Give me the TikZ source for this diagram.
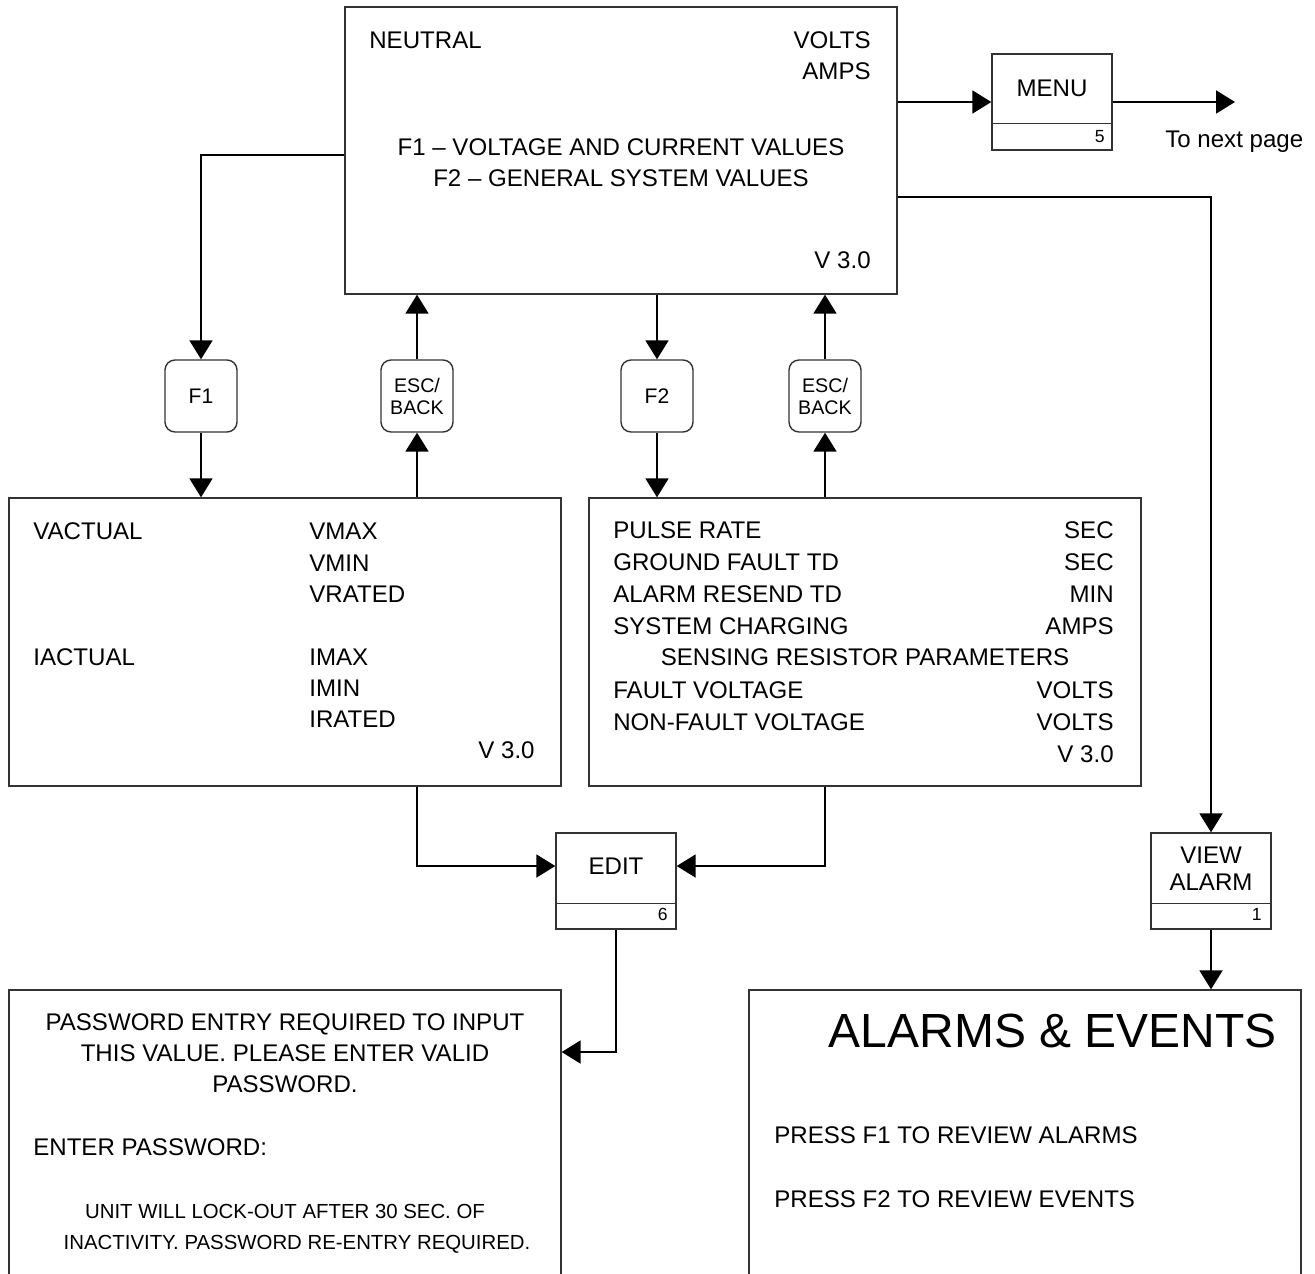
\documentclass[tikz,border=0pt]{standalone}
\usepackage{fontspec}
\setmainfont{Liberation Sans}
\usetikzlibrary{arrows.meta,positioning,calc}
\tikzset{
    tela/.style={
        rectangle,
        draw=black!80,
        line width=0.8pt,
        fill=white
    },
    tecla/.style={
        rectangle,
        draw=black!80,
        line width=0.8pt,
        rounded corners=0.2cm,
        align=center,
        minimum width=1.44cm,
        minimum height=1.44cm,
        font=\fontsize{11.2}{12.5}\selectfont
    },
    botao/.style={tela, minimum width=2.4cm, minimum height=1.92cm},
    divisao/.style={draw=black!80, line width=0.8pt},
    rotulo/.style={inner sep=0pt, font=\fontsize{13.7}{16}\selectfont},
    miudo/.style={inner sep=0pt, font=\fontsize{11.6}{13}\selectfont},
    numero/.style={inner sep=0pt, anchor=base east, font=\fontsize{10}{12}\selectfont},
    fluxo/.style={-{Triangle[length=0.38cm, width=0.46cm]}, line width=1.1pt}
}

\begin{document}
\begin{tikzpicture}[x=0.02cm, y=-0.02cm]
        \path[use as bounding box, clip] (0,0) rectangle (1315,1274);

        % telas
        \node[tela, minimum width=11.04cm, minimum height=5.74cm] (neutro) at (621,150.5) {};
        \node[tela, minimum width=11.04cm, minimum height=5.76cm] (tensoes) at (285,642) {};
        \node[tela, minimum width=11.04cm, minimum height=5.76cm] (sistema) at (865,642) {};
        \node[tela, minimum width=11.04cm, minimum height=6.2cm] (senha) at (285,1145) {};
        \node[tela, minimum width=11.04cm, minimum height=6.2cm] (eventos) at (1025,1145) {};

        % teclas
        \node[tecla, font=\fontsize{12}{14}\selectfont] (f1) at (201,396) {F1};
        \node[tecla] (esc1) at (417,396) {ESC/\\BACK};
        \node[tecla, font=\fontsize{12}{14}\selectfont] (f2) at (657,396) {F2};
        \node[tecla] (esc2) at (825,396) {ESC/\\BACK};

        % botoes com numero
        \node[botao] (menu) at (1052,102) {};
        \node[botao] (editar) at (616,881) {};
        \node[botao] (alarme) at (1211,881) {};
        \draw[divisao] ([yshift=0.54cm]menu.south west) -- ([yshift=0.54cm]menu.south east);
        \draw[divisao] ([yshift=0.52cm]editar.south west) -- ([yshift=0.52cm]editar.south east);
        \draw[divisao] ([yshift=0.52cm]alarme.south west) -- ([yshift=0.52cm]alarme.south east);
        \node[rotulo, anchor=base] (menutxt) at (1052,96.5) {MENU};
        \node[numero] (menunum) at (1105,142) {5};
        \node[rotulo, anchor=base] (editartxt) at (616,874.5) {EDIT};
        \node[numero] (editarnum) at (668,920) {6};
        \node[rotulo, anchor=base] (alarmetxt1) at (1211,863.5) {VIEW};
        \node[rotulo, anchor=base] (alarmetxt2) at (1211,890.5) {ALARM};
        \node[numero] (alarmenum) at (1262,920) {1};

        % tela principal
        \node[rotulo, anchor=base west] (neutral) at (369,48.5) {NEUTRAL};
        \node[rotulo, anchor=base east] (volts) at (871,48.5) {VOLTS};
        \node[rotulo, anchor=base east] (amps) at (871,79.5) {AMPS};
        \node[rotulo, anchor=base] (opf1) at (621,155.5) {F1 – VOLTAGE AND CURRENT VALUES};
        \node[rotulo, anchor=base] (opf2) at (621,186.5) {F2 – GENERAL SYSTEM VALUES};
        \node[rotulo, anchor=base east] (versao1) at (871,268.5) {V 3.0};

        % tensoes e correntes
        \node[rotulo, anchor=base west] (vactual) at (33,539.5) {VACTUAL};
        \node[rotulo, anchor=base west] (vmax) at (309,539.5) {VMAX};
        \node[rotulo, anchor=base west] (vmin) at (309,571.5) {VMIN};
        \node[rotulo, anchor=base west] (vrated) at (309,602.5) {VRATED};
        \node[rotulo, anchor=base west] (iactual) at (33,665.5) {IACTUAL};
        \node[rotulo, anchor=base west] (imax) at (309,665.5) {IMAX};
        \node[rotulo, anchor=base west] (imin) at (309,696.5) {IMIN};
        \node[rotulo, anchor=base west] (irated) at (309,727.5) {IRATED};
        \node[rotulo, anchor=base east] (versao2) at (535,758.5) {V 3.0};

        % valores do sistema
        \node[rotulo, anchor=base west] (pulso) at (613,538.5) {PULSE RATE};
        \node[rotulo, anchor=base east] (pulsoun) at (1114,538.5) {SEC};
        \node[rotulo, anchor=base west] (falta) at (613,570.5) {GROUND FAULT TD};
        \node[rotulo, anchor=base east] (faltaun) at (1114,570.5) {SEC};
        \node[rotulo, anchor=base west] (reenvio) at (613,602.5) {ALARM RESEND TD};
        \node[rotulo, anchor=base east] (reenvioun) at (1114,602.5) {MIN};
        \node[rotulo, anchor=base west] (carga) at (613,634.5) {SYSTEM CHARGING};
        \node[rotulo, anchor=base east] (cargaun) at (1114,634.5) {AMPS};
        \node[rotulo, anchor=base] (resistor) at (865,665.5) {SENSING RESISTOR PARAMETERS};
        \node[rotulo, anchor=base west] (vfalta) at (613,698.5) {FAULT VOLTAGE};
        \node[rotulo, anchor=base east] (vfaltaun) at (1114,698.5) {VOLTS};
        \node[rotulo, anchor=base west] (vnfalta) at (613,730.5) {NON-FAULT VOLTAGE};
        \node[rotulo, anchor=base east] (vnfaltaun) at (1114,730.5) {VOLTS};
        \node[rotulo, anchor=base east] (versao3) at (1114,762.5) {V 3.0};

        % senha
        \node[rotulo, anchor=base] (senha1) at (285,1030.5) {PASSWORD ENTRY REQUIRED TO INPUT};
        \node[rotulo, anchor=base] (senha2) at (285,1061.5) {THIS VALUE. PLEASE ENTER VALID};
        \node[rotulo, anchor=base] (senha3) at (285,1092.5) {PASSWORD.};
        \node[rotulo, anchor=base west] (entrada) at (33,1155.5) {ENTER PASSWORD:};
        \node[miudo, anchor=base] (bloqueio1) at (285,1218) {UNIT WILL LOCK-OUT AFTER 30 SEC. OF};
        \node[miudo, anchor=base] (bloqueio2) at (297,1249) {INACTIVITY. PASSWORD RE-ENTRY REQUIRED.};

        % alarmes
        \node[inner sep=0pt, anchor=base east, font=\fontsize{27.3}{32}\selectfont] (titulo) at (1277,1047) {ALARMS \& EVENTS};
        \node[rotulo, anchor=base west] (revisao1) at (774,1143.5) {PRESS F1 TO REVIEW ALARMS};
        \node[rotulo, anchor=base west] (revisao2) at (774,1207.5) {PRESS F2 TO REVIEW EVENTS};

        \coordinate (proxima) at (1235,102);
        \node[rotulo, anchor=base west] (proximatxt) at (1165,148) {To next page};

        \draw[fluxo] (neutro.east |- menu) -- (menu);
        \draw[fluxo] (menu) -- (proxima);
        \draw[fluxo] ([yshift=-0.09cm]neutro.west) -| (f1);
        \draw[fluxo] ([yshift=-0.93cm]neutro.east) -| (alarme);
        \draw[fluxo] (f1) -- (f1 |- tensoes.north);
        \draw[fluxo] (esc1 |- tensoes.north) -- (esc1);
        \draw[fluxo] (esc1) -- (esc1 |- neutro.south);
        \draw[fluxo] (f2 |- neutro.south) -- (f2);
        \draw[fluxo] (f2) -- (f2 |- sistema.north);
        \draw[fluxo] (esc2 |- sistema.north) -- (esc2);
        \draw[fluxo] (esc2) -- (esc2 |- neutro.south);
        \draw[fluxo] (esc1 |- tensoes.south) |- ([yshift=0.3cm]editar.west);
        \draw[fluxo] (esc2 |- sistema.south) |- ([yshift=0.3cm]editar.east);
        \draw[fluxo] (editar.south) |- ([yshift=1.86cm]senha.east);
        \draw[fluxo] (alarme) -- (alarme |- eventos.north);
    \end{tikzpicture}
\end{document}
